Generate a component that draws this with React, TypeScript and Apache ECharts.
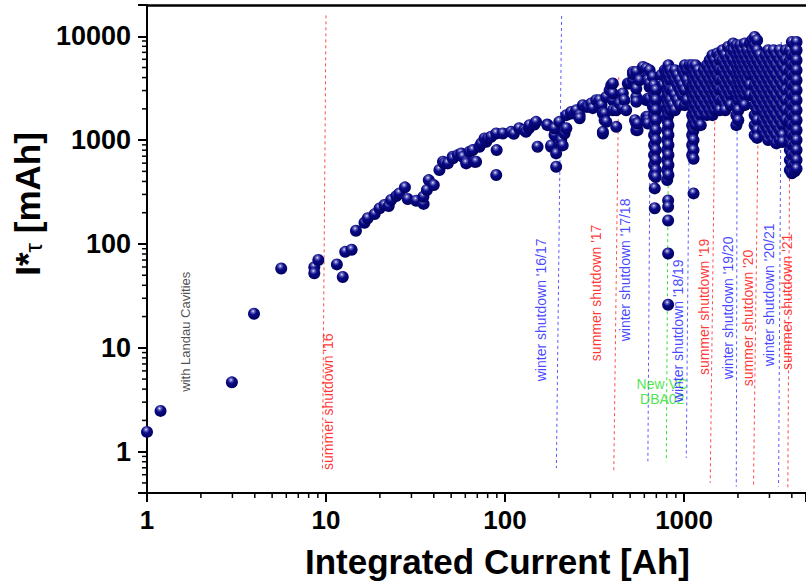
import React, { useEffect, useRef } from 'react';
import * as echarts from 'echarts';

const FONT = '"Liberation Sans", Arial, Helvetica, sans-serif';

// ---- data (x: integrated current [Ah], y: I*tau [mAh]) ----
const landauPoints: [number, number][] = [
  [1, 1.55], [1.19, 2.47], [2.98, 4.65], [3.96, 21.3], [5.62, 58],
];

const risePoints: [number, number][] = [
  [8.6, 59.6], [8.6, 52.2], [9.06, 70], [11.5, 63.6], [12.4, 48.1], [12.8, 84], [13.9, 88],
  [14.7, 134], [16.4, 160], [17.1, 177], [18.7, 194], [19.9, 220], [21.2, 237], [22.4, 232],
  [23.1, 265], [24.7, 289], [25.7, 307], [27.6, 351], [28.6, 271], [31.9, 261], [35.1, 243],
  [35, 285], [36.6, 331], [37.5, 412], [40, 369], [43, 515], [45, 619], [45.9, 597], [47.9, 597],
  [51, 691], [51.1, 667], [54.5, 717], [56.9, 745], [58.1, 691], [60.7, 619], [60.7, 597],
  [63.4, 773], [66, 801], [67.5, 619], [68.9, 619], [72, 863], [73.6, 929], [76.8, 1038],
  [78.5, 963], [80.2, 1038], [83.7, 1076], [89.3, 1159], [89.8, 801], [89.3, 461], [97.2, 1159],
];

const plateauPoints: [number, number][] = [
  [108, 1201], [112, 1150], [120, 1300], [128, 1248], [131, 1201], [136, 1300], [137, 1394],
  [146, 1413], [149, 1500], [152, 863], [172, 1413], [173, 1394], [181, 863], [181, 889],
  [189, 1117], [189, 1300], [193, 745], [193, 554], [201, 1500], [206, 1000], [210, 889],
  [215, 1159], [220, 1300], [220, 1740], [234, 1806], [234, 1865], [245, 1806], [250, 1942],
  [261, 1740], [261, 1625], [272, 2171], [284, 2090], [290, 2090], [303, 2253], [309, 2032],
  [323, 2426], [337, 2090], [337, 2426], [346, 2171], [352, 1806], [352, 1159], [352, 1201],
  [360, 1556], [360, 1806], [368, 2608], [368, 1500], [384, 3027], [392, 3378], [400, 2426],
  [400, 1942], [400, 2812], [400, 3508], [418, 1342], [418, 1942], [436, 2253], [455, 2812],
  [455, 2032], [464, 2426], [475, 1942], [485, 3508], [496, 3508], [518, 4540], [518, 3776],
  [518, 4330], [532, 1556], [541, 2608], [541, 1445], [541, 3130], [541, 2340], [541, 4540],
  [541, 1247], [550, 1247], [550, 1445], [564, 3776], [589, 5070], [615, 4890], [615, 2426],
  [615, 1675], [628, 1675], [628, 4210], [628, 2500], [628, 1556], [628, 1445], [628, 3776],
  [642, 3250], [642, 2500], [642, 3508], [642, 4710],
];

const scatteredPoints: [number, number][] = [
  [670, 4060], [670, 2090], [710, 2608], [729, 1942], [745, 4220], [760, 3380],
  [750, 2710], [770, 2172], [780, 4710], [765, 1740], [795, 4330], [686, 343], [686, 221],
  [815, 262], [815, 228], [815, 168], [815, 81], [815, 26], [1130, 307],
];

// dense vertical streaks: [x, list of y]
const streakColumns: [number, number[]][] = [
  [680, [3380, 2710, 2172, 1740, 1393, 1117, 895, 717, 575, 461]],
  [695, [3027, 2426, 1942, 1556, 1247, 1000, 801, 642, 515, 441]],
  [805, [4710, 3776, 3027, 2426, 1942, 1556, 1247, 1000, 801, 642, 515, 412]],
  [818, [5260, 4220, 3380, 2710, 2172, 1740, 1393, 1117, 895, 717, 575, 461]],
  [840, [4710, 3776, 3027, 2426, 1942]],
  [865, [4220, 3027, 2172]],
  [890, [4710, 3776, 2710, 1942]],
  [920, [4220, 3380, 2426]],
  [950, [3776, 3027, 2172]],
  [980, [4710, 3380, 2710]],
  [1010, [5260, 4220, 3027, 2172]],
  [1040, [4710, 3776, 2426]],
  [1070, [5260, 3380]],
  [1110, [5260, 4220, 3380, 2710, 2172, 1740, 1393, 1117, 895, 717]],
  [1130, [4710, 3776, 3027, 2426, 1942, 1556, 1247, 1000, 801, 660]],
  [1160, [5260, 4220, 3380, 2710, 2172, 1740, 1393]],
  [1200, [4710, 3776, 3027, 2426, 1942, 1556]],
  [1240, [4220, 3380, 2710, 2172, 1740, 1393]],
  [1290, [4710, 3776, 3027, 2426, 1942]],
  [1340, [5260, 4220, 3380, 2710, 2172, 1740]],
  [1390, [5875, 4710, 3776, 3027, 2426, 1942]],
  [1440, [6560, 5260, 4220, 3380, 2710, 2172, 1740]],
  [1480, [5875, 4710, 3776, 3027, 2426, 1942]],
  [1530, [6830, 5260, 4220, 3380, 2710, 2172]],
  [1580, [6560, 5875, 4710, 3776, 3027, 2426, 1942]],
  [1640, [7330, 5875, 4710, 3776, 3027, 2426]],
  [1700, [6560, 5260, 4220, 3380, 2710, 2172, 1942]],
  [1760, [7900, 5875, 4710, 3776, 3027, 2426]],
  [1820, [7330, 6560, 5260, 4220, 3380, 2710, 2172]],
  [1880, [8520, 7330, 5875, 4710, 3776, 3027]],
  [1960, [8190, 6560, 5260, 4220, 3380, 2710, 2172, 1740, 1393]],
  [2010, [7330, 5875, 4710, 3776, 3027, 2426, 1942, 1556]],
  [2060, [8190, 6560, 5260, 4220, 3380, 2710]],
  [2120, [7330, 5875, 4710, 3776, 3027, 2426]],
  [2180, [8520, 6560, 5260, 4220, 3380, 2710, 2172]],
  [2250, [7330, 5875, 4710, 3776, 3027]],
  [2330, [8520, 6560, 5260, 4220, 3380, 2710]],
  [2400, [9160, 7330, 5875, 4710]],
  [2480, [9840, 8190, 6560, 5260, 4220, 3380, 2710, 2172, 1740, 1393, 1117]],
  [2560, [9160, 7330, 5875, 4710, 3776, 3027, 2426, 1942, 1556, 1247, 1050]],
  [2650, [6560, 5260, 4220, 3380, 2710, 2172]],
  [2750, [5875, 4710, 3776, 3027, 2426, 1942, 1556, 1247]],
  [2850, [6560, 5260, 4220, 3380, 2710, 2172, 1740, 1393, 1117]],
  [2950, [7330, 5875, 4710, 3776, 3027, 2426, 1942, 1556, 1247, 1000]],
  [3050, [6560, 5260, 4220, 3380, 2710, 2172, 1740, 1393, 1117]],
  [3160, [7330, 5875, 4710, 3776, 3027, 2426, 1942, 1556, 1247, 1000]],
  [3280, [6560, 5260, 4220, 3380, 2710, 2172, 1740, 1393, 1117, 930]],
  [3420, [7330, 5875, 4710, 3776, 3027, 2426, 1942, 1556, 1247, 1000]],
  [3550, [6560, 5260, 4220, 3380, 2710, 2172, 1740, 1393, 1117, 960]],
  [3700, [7330, 5875, 4710, 3776, 3027, 2426, 1942, 1556]],
  [3900, [7330, 5875, 4710, 3776, 3027, 2426, 1942, 1556, 1247, 1000, 801, 642, 515]],
  [4000, [8810, 6560, 5260, 4220, 3380, 2710, 2172, 1740, 1393, 1117, 895, 717, 575, 480]],
  [4150, [8190, 6560, 5260, 4220, 3380, 2710, 2172, 1740, 1393, 1117, 895, 717, 575, 500]],
  [4250, [8810, 7330, 5875, 4710, 3776, 3027, 2426, 1942, 1556, 1247, 1000, 801, 642, 530]],
];

// ---- minor tick values (log axes) ----
const xMinorTicks = [
  2, 3, 4, 5, 6, 7, 8, 9, 20, 30, 40, 50, 60, 70, 80, 90,
  200, 300, 400, 500, 600, 700, 800, 900, 2000, 3000, 4000,
];
const yMinorTicks = [
  0.5, 0.6, 0.7, 0.8, 0.9, 2, 3, 4, 5, 6, 7, 8, 9, 20, 30, 40, 50, 60, 70, 80, 90,
  200, 300, 400, 500, 600, 700, 800, 900, 2000, 3000, 4000, 5000, 6000, 7000, 8000, 9000,
];

// ---- event markers ----
const markerNames = [
  "summer shutdown '16", "winter shutdown '16/17", "summer shutdown '17", "winter shutdown '17/18",
  'New VC\nDBA02', "winter shutdown '18/19", "summer shutdown '19", "winter shutdown '19/20",
  "summer shutdown '20", "winter shutdown '20/21", "summer shutdown '21",
];
const markerKinds = ['summer', 'winter', 'summer', 'winter', 'vc', 'winter', 'summer', 'winter', 'summer', 'winter', 'summer'];
const markerTopX = [10.0, 207, 432, 648, 823, 1074, 1500, 1983, 2618, 3492, 3918];
const markerBottomX = [9.55, 193.6, 405, 628, 796, 1029, 1400, 1958, 2444, 3373, 3800];
const markerTopY = [15900, 15700, 4035, 2500, 5260, 3000, 6560, 6000, 5000, 8800, 8000];
const markerBottomY = [0.67, 0.695, 0.63, 0.807, 0.8, 0.87, 0.5, 0.46, 0.48, 0.46, 0.45];
const labelX = [10.2, 159, 323, 465, 755, 931, 1285, 1750, 2264, 2965, 3744];
const labelY = [3.03, 23.2, 33.8, 56.2, 3.78, 14.6, 24.8, 24.2, 19.4, 32.3, 27.7];

const noteText = 'with Landau Cavities';
const notePos: [number, number] = [1.64, 14.3];

const lineColors: Record<string, string> = { summer: '#ff4d4d', winter: '#5a5aff', vc: '#33dd33' };
const textColors: Record<string, string> = { summer: '#ff0000', winter: '#1515ff', vc: '#22e022' };

const decadeLabel = (v: number) => {
  const l = Math.log10(v);
  return Math.abs(l - Math.round(l)) < 1e-6 ? String(Math.round(v)) : '';
};

export default function App() {
  const ref = useRef<HTMLDivElement>(null);
  useEffect(() => {
    if (!ref.current) return;
    const chart = echarts.init(ref.current, undefined, { renderer: 'svg' });

    const allPoints: [number, number][] = [
      ...landauPoints,
      ...risePoints,
      ...plateauPoints,
      ...scatteredPoints,
    ];
    streakColumns.forEach(([x, ys]) => ys.forEach((y) => allPoints.push([x, y])));

    const ball = new echarts.graphic.RadialGradient(0.42, 0.3, 0.72, [
      { offset: 0, color: '#f0f0ff' },
      { offset: 0.16, color: '#6a6ac0' },
      { offset: 0.42, color: '#0a0a88' },
      { offset: 1, color: '#00005a' },
    ]);

    const lineSeries = markerNames.map((name, i) => ({
      type: 'line',
      name,
      data: [
        [markerTopX[i], markerTopY[i]],
        [markerBottomX[i], markerBottomY[i]],
      ],
      symbol: 'none',
      silent: true,
      z: 1,
      lineStyle: { color: lineColors[markerKinds[i]], width: 1, type: [3, 3] },
    }));

    const labelData = markerNames.map((name, i) => ({
      value: [labelX[i], labelY[i]],
      name,
      label: {
        show: true,
        position: 'inside',
        formatter: name,
        rotate: markerKinds[i] === 'vc' ? 0 : 90,
        color: textColors[markerKinds[i]],
        fontSize: 14,
        lineHeight: 15,
        fontFamily: FONT,
      },
    }));
    labelData.push({
      value: [notePos[0], notePos[1]],
      name: noteText,
      label: {
        show: true,
        position: 'inside',
        formatter: noteText,
        rotate: 90,
        color: '#222',
        fontSize: 13,
        lineHeight: 15,
        fontFamily: FONT,
      },
    });

    const xMinorSeries = {
      type: 'custom',
      coordinateSystem: 'cartesian2d',
      data: xMinorTicks.map((v) => [v, 0.4]),
      clip: false,
      silent: true,
      z: 6,
      renderItem: (_p: any, api: any) => {
        const pt = api.coord([api.value(0), api.value(1)]);
        return {
          type: 'line',
          shape: { x1: pt[0], y1: pt[1], x2: pt[0], y2: pt[1] + 5 },
          style: { stroke: '#000', lineWidth: 1.5 },
        };
      },
    };
    const yMinorSeries = {
      type: 'custom',
      coordinateSystem: 'cartesian2d',
      data: yMinorTicks.map((v) => [1, v]),
      clip: false,
      silent: true,
      z: 6,
      renderItem: (_p: any, api: any) => {
        const pt = api.coord([api.value(0), api.value(1)]);
        return {
          type: 'line',
          shape: { x1: pt[0] - 5, y1: pt[1], x2: pt[0], y2: pt[1] },
          style: { stroke: '#000', lineWidth: 1.5 },
        };
      },
    };

    chart.setOption({
      animation: false,
      backgroundColor: '#ffffff',
      grid: { left: 147, right: 0, top: 5, bottom: 90, containLabel: false, outerBoundsMode: 'none' },
      xAxis: [
        {
          type: 'log',
          logBase: 10,
          min: 1,
          max: 4800,
          axisLine: { show: true, onZero: false, lineStyle: { color: '#000', width: 2 } },
          axisTick: { show: true, length: 9, lineStyle: { color: '#000', width: 2 } },
          minorTick: { show: false },
          splitLine: { show: false },
          axisLabel: {
            formatter: decadeLabel,
            fontSize: 26,
            fontWeight: 'bold',
            color: '#000',
            fontFamily: FONT,
            margin: 14,
            hideOverlap: false,
          },
          name: 'Integrated Current [Ah]',
          nameLocation: 'middle',
          nameGap: 51,
          nameTextStyle: {
            fontSize: 35,
            fontWeight: 'bold',
            color: '#000',
            fontFamily: FONT,
            padding: [0, 0, 0, 42],
          },
        },
        {
          type: 'value',
          position: 'top',
          min: 0,
          max: 1,
          axisLine: { show: true, onZero: false, lineStyle: { color: '#000', width: 2.5 } },
          axisTick: { show: false },
          axisLabel: { show: false },
          splitLine: { show: false },
        },
      ],
      yAxis: {
        type: 'log',
        logBase: 10,
        min: 0.4,
        max: 20000,
        axisLine: { show: true, onZero: false, lineStyle: { color: '#000', width: 2 } },
        axisTick: { show: true, length: 9, lineStyle: { color: '#000', width: 2 } },
        minorTick: { show: false },
        splitLine: { show: false },
        axisLabel: {
          formatter: decadeLabel,
          fontSize: 27,
          fontWeight: 'bold',
          color: '#000',
          fontFamily: FONT,
          margin: 16,
          hideOverlap: false,
        },
        name: '{a|I*}{b|τ}{a| [mAh]}',
        nameLocation: 'middle',
        nameGap: 82,
        nameRotate: 90,
        nameTextStyle: {
          color: '#000',
          fontFamily: FONT,
          padding: [0, 0, 0, 90],
          rich: {
            a: { fontSize: 35, fontWeight: 'bold', color: '#000', fontFamily: FONT },
            b: { fontSize: 24, color: '#000', fontFamily: FONT, verticalAlign: 'bottom', padding: [12, 0, 0, 0] },
          },
        },
      },
      series: [
        ...lineSeries,
        {
          type: 'scatter',
          data: allPoints,
          symbol: 'circle',
          symbolSize: 12,
          z: 2,
          silent: true,
          itemStyle: { color: ball, opacity: 1 },
        },
        {
          type: 'scatter',
          data: labelData,
          symbolSize: 1,
          z: 5,
          silent: true,
          itemStyle: { color: 'rgba(0,0,0,0)' },
        },
        xMinorSeries,
        yMinorSeries,
      ],
    } as any);

    return () => chart.dispose();
  }, []);

  return (
    <div
      ref={ref}
      style={{ position: 'fixed', left: 0, top: 0, width: 806, height: 583, background: '#fff' }}
    />
  );
}
